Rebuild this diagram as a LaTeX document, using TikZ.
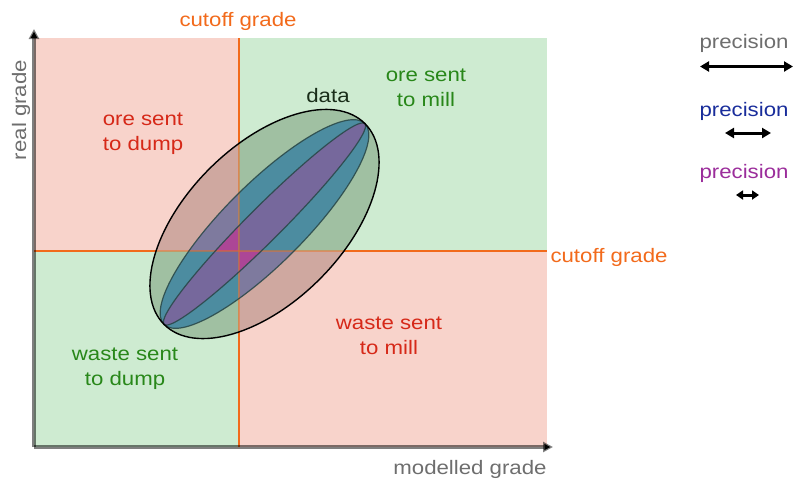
\documentclass[tikz,border=0pt]{standalone}
\usepackage{fontspec}
\setmainfont{Liberation Sans}[FakeStretch=1.14]
\usetikzlibrary{arrows.meta}
\definecolor{pinkbg}{RGB}{248,211,203}
\definecolor{greenbg}{RGB}{206,235,209}
\definecolor{outerG}{RGB}{160,192,162}
\definecolor{outerP}{RGB}{207,168,160}
\definecolor{blueG}{RGB}{76,140,160}
\definecolor{blueP}{RGB}{126,122,158}
\definecolor{purpG}{RGB}{118,104,156}
\definecolor{purpP}{RGB}{172,70,150}
\definecolor{cutorange}{RGB}{242,106,27}
\definecolor{redtxt}{RGB}{214,40,24}
\definecolor{greentxt}{RGB}{40,135,25}
\definecolor{axisgray}{RGB}{110,110,110}
\definecolor{precblue}{RGB}{25,45,155}
\definecolor{precpurple}{RGB}{155,45,155}
\definecolor{outlinecol}{RGB}{40,70,70}
\definecolor{datatxt}{RGB}{25,45,25}
\begin{document}
\begin{tikzpicture}[x=1pt,y=1pt,
  lbl/.style={font=\fontsize{19.5}{25}\selectfont, align=center, inner sep=0pt},
  cutline/.style={draw=cutorange, line width=2},
  axisline/.style={draw=black, draw opacity=0.5, line width=3.5, -{Triangle[length=10,width=10]}},
  legarrow/.style={draw=black, line width=3, {Triangle[length=9,width=10]}-{Triangle[length=9,width=10]}},
  ellline/.style={draw=outlinecol, draw opacity=0.85, line width=1.2}]
\useasboundingbox (0,0) rectangle (794,-480);
% quadrants
\fill[pinkbg] (34,-38) rectangle (238.5,-251);
\fill[greenbg] (238.5,-38) rectangle (547,-251);
\fill[greenbg] (34,-251) rectangle (238.5,-447);
\fill[pinkbg] (238.5,-251) rectangle (547,-447);
% cutoff lines
\coordinate (vt) at (238.5,-38);
\coordinate (vb) at (238.5,-447);
\coordinate (hl) at (34,-251);
\coordinate (hr) at (547,-251);
\draw[cutline] (vt) -- (vb);
\draw[cutline] (hl) -- (hr);
\coordinate (c) at (264.5,-224);
% ellipse fills over pink
\begin{scope}
\clip (34,-38) rectangle (238.5,-251) (238.5,-251) rectangle (547,-447);
\begin{scope}[shift={(c)}, rotate=45]
\fill[outerP] (0,0) ellipse [x radius=142, y radius=78];
\fill[blueP] (0,0) ellipse [x radius=142, y radius=40];
\fill[purpP] (0,0) ellipse [x radius=142, y radius=17];
\end{scope}
\end{scope}
% ellipse fills over green
\begin{scope}
\clip (238.5,-38) rectangle (547,-251) (34,-251) rectangle (238.5,-447);
\begin{scope}[shift={(c)}, rotate=45]
\fill[outerG] (0,0) ellipse [x radius=142, y radius=78];
\fill[blueG] (0,0) ellipse [x radius=142, y radius=40];
\fill[purpG] (0,0) ellipse [x radius=142, y radius=17];
\end{scope}
\end{scope}
% cutoff lines seen through ellipse
\begin{scope}
\begin{scope}[shift={(c)}, rotate=45]
\clip (0,0) ellipse [x radius=142, y radius=78];
\end{scope}
\draw[cutline, draw opacity=0.45] (vt) -- (vb);
\draw[cutline, draw opacity=0.45] (hl) -- (hr);
\end{scope}
% outlines
\begin{scope}[shift={(c)}, rotate=45]
\draw[ellline] (0,0) ellipse [x radius=142, y radius=17];
\draw[ellline] (0,0) ellipse [x radius=142, y radius=40];
\draw[black, line width=1.4] (0,0) ellipse [x radius=142, y radius=78];
\end{scope}
% axes
\coordinate (o) at (34,-447);
\coordinate (ytip) at (34,-29);
\coordinate (xtip) at (553,-447);
\draw[axisline] (o) -- (ytip);
\draw[axisline] (o) -- (xtip);
% labels
\node[lbl, text=cutorange] (cuttop) at (238,-21) {cutoff grade};
\node[lbl, text=cutorange] (cutright) at (609,-257) {cutoff grade};
\node[lbl, text=axisgray, rotate=90] (ylab) at (21,-110) {real grade};
\node[lbl, text=axisgray] (xlab) at (470,-469) {modelled grade};
\node[lbl, text=redtxt] (oredump) at (143,-134) {ore sent\\to dump};
\node[lbl, text=greentxt] (oremill) at (426,-88) {ore sent\\to mill};
\node[lbl, text=datatxt] (data) at (328,-96) {data};
\node[lbl, text=greentxt] (wdump) at (125,-369) {waste sent\\to dump};
\node[lbl, text=redtxt] (wmill) at (389,-336) {waste sent\\to mill};
% legend
\node[lbl, text=axisgray] (p1) at (744,-43) {precision};
\node[lbl, text=precblue] (p2) at (744,-111) {precision};
\node[lbl, text=precpurple] (p3) at (744,-173) {precision};
\coordinate (a1l) at (700,-66.5);
\coordinate (a1r) at (793,-66.5);
\coordinate (a2l) at (725,-133);
\coordinate (a2r) at (771,-133);
\coordinate (a3l) at (736,-195);
\coordinate (a3r) at (759,-195);
\draw[legarrow] (a1l) -- (a1r);
\draw[legarrow] (a2l) -- (a2r);
\draw[legarrow, {Triangle[length=7,width=9]}-{Triangle[length=7,width=9]}] (a3l) -- (a3r);
\end{tikzpicture}
\end{document}
